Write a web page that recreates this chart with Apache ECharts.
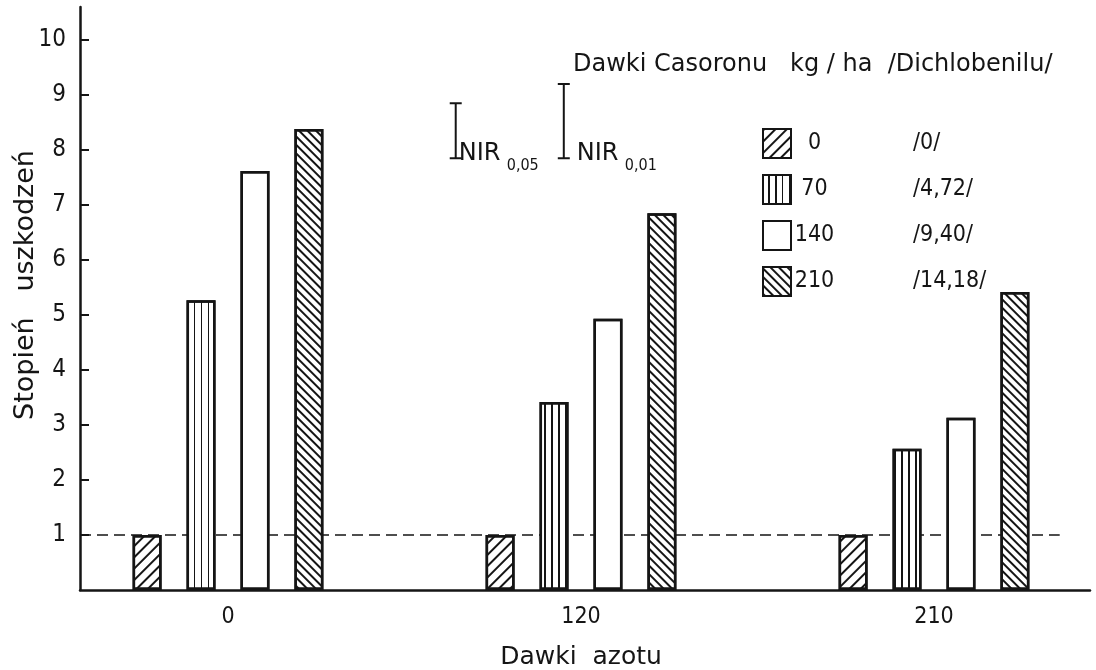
<!DOCTYPE html>
<html>
<head>
<meta charset="utf-8">
<script src="https://cdn.jsdelivr.net/npm/echarts@6/dist/echarts.min.js"></script>
<style>html,body{margin:0;padding:0;background:#fff}#c{width:1096px;height:670px}</style>
</head>
<body>
<div id="c"></div>
<script>
// ---- data ----
const nitrogenDoses = ['0', '120', '210'];             // Dawki azotu
const casoronDoses = ['0', '70', '140', '210'];        // kg/ha
const dichlobenil = ['/0/', '/4,72/', '/9,40/', '/14,18/'];
const damage0   = [1.0, 1.0, 1.0];
const damage70  = [5.27, 3.42, 2.57];
const damage140 = [7.62, 4.93, 3.13];
const damage210 = [8.38, 6.85, 5.42];
const yTicks = [1, 2, 3, 4, 5, 6, 7, 8, 9, 10];
const nirLabels = ['0,05', '0,01'];
const nirValues = [1.0, 1.35];
const controlLevel = 1;

// ---- layout / style constants ----
const FONT = '"DejaVu Sans", sans-serif';
const NUMFONT = '"DejaVu Sans Condensed", "DejaVu Sans", sans-serif';
const INK = '#151515';
const Y_MAX = 10.6;
const NIR_X = [0.372, 0.479];   // fraction of axis width
const NIR_TEXT_DX = [3, 13];
const NIR_BASE = 7.85;
const DASH_END = 0.97;

const decals = [
  { symbol: 'rect', symbolSize: 1, dashArrayX: [1, 0], dashArrayY: [1.5, 5.3], rotation: -Math.PI / 4, color: INK },
  { symbol: 'rect', symbolSize: 1, dashArrayX: [1, 0], dashArrayY: [1.4, 4.6], rotation: Math.PI / 2, color: INK },
  null,
  { symbol: 'rect', symbolSize: 1, dashArrayX: [1, 0], dashArrayY: [1.4, 3.6], rotation: Math.PI / 4, color: INK }
];
const seriesData = [damage0, damage70, damage140, damage210];

const barSeries = casoronDoses.map((name, i) => ({
  name: name,
  type: 'bar',
  xAxisIndex: 1,
  yAxisIndex: 1,
  data: seriesData[i],
  barWidth: 29,
  barGap: '86%',
  itemStyle: {
    color: '#fff',
    borderColor: INK,
    borderWidth: 2.5,
    decal: decals[i] || { symbol: 'none' }
  },
  emphasis: { disabled: true },
  z: 3
}));

const chart = echarts.init(document.getElementById('c'), null, { renderer: 'canvas' });
chart.setOption({
  backgroundColor: '#fff',
  animation: false,
  textStyle: { fontFamily: FONT, color: INK },
  title: [{
    text: 'Dawki Casoronu   kg / ha  /Dichlobenilu/',
    left: 568, top: 48,
    textStyle: { fontFamily: FONT, fontSize: 24, fontWeight: 'normal', color: INK }
  }],
  graphic: [{
    type: 'text',
    x: 26, y: 285,
    rotation: Math.PI / 2,
    style: {
      text: 'Stopień   uszkodzeń',
      font: '27px ' + FONT,
      fill: INK,
      align: 'center',
      verticalAlign: 'middle'
    }
  }],
  legend: {
    orient: 'vertical',
    left: 757, top: 123,
    itemWidth: 28, itemHeight: 29,
    itemGap: 15,
    selectedMode: false,
    icon: 'rect',
    data: casoronDoses,
    formatter: function (name) {
      const i = casoronDoses.indexOf(name);
      return '{n|' + name + '}{v|' + dichlobenil[i] + '}';
    },
    textStyle: {
      fontFamily: NUMFONT, color: INK,
      rich: {
        n: { width: 37, align: 'right', fontSize: 23, lineHeight: 29, fontFamily: NUMFONT, color: INK },
        v: { padding: [0, 0, 0, 80], fontSize: 23, lineHeight: 29, fontFamily: NUMFONT, color: INK }
      }
    }
  },
  grid: [
    { left: 80, right: 6, top: 7, bottom: 80, outerBoundsMode: 'none', containLabel: false },
    { left: 51.5, width: 1059, top: 7, bottom: 80, outerBoundsMode: 'none', containLabel: false }
  ],
  xAxis: [
    {
      type: 'value', gridIndex: 0, min: 0, max: 1,
      axisLine: { show: true, onZero: false, lineStyle: { color: INK, width: 2.5 } },
      axisTick: { show: false }, axisLabel: { show: false }, splitLine: { show: false }
    },
    {
      type: 'category', gridIndex: 1, data: nitrogenDoses,
      axisLine: { show: false }, axisTick: { show: false }, splitLine: { show: false },
      axisLabel: { fontSize: 23, fontFamily: NUMFONT, color: INK, margin: 16 },
      name: 'Dawki  azotu', nameLocation: 'middle', nameGap: 55,
      nameTextStyle: { fontSize: 25, fontFamily: FONT, color: INK }
    }
  ],
  yAxis: [
    {
      type: 'value', gridIndex: 0, min: 0, max: Y_MAX, interval: 1,
      axisLine: { show: true, onZero: false, lineStyle: { color: INK, width: 2.5 } },
      axisTick: { show: true, inside: true, length: 9, customValues: yTicks, lineStyle: { color: INK, width: 2 } },
      axisLabel: { customValues: yTicks, fontSize: 24, fontFamily: NUMFONT, color: INK, margin: 14,
        formatter: v => (yTicks.indexOf(v) >= 0 ? String(v) : '') },
      splitLine: { show: false }
    },
    {
      type: 'value', gridIndex: 1, min: 0, max: Y_MAX, show: false, splitLine: { show: false }
    }
  ],
  series: barSeries.concat([
    {
      type: 'line',
      xAxisIndex: 0, yAxisIndex: 0,
      data: [[0, controlLevel], [DASH_END, controlLevel]],
      symbol: 'none',
      lineStyle: { color: INK, width: 1.7, type: [11, 6] },
      silent: true, z: 2
    },
    {
      type: 'custom',
      xAxisIndex: 0, yAxisIndex: 0,
      data: nirValues.map((v, i) => [i, v]),
      silent: true,
      renderItem: function (params, api) {
        const i = api.value(0);
        const len = api.value(1);
        const cs = params.coordSys;
        const x = cs.x + cs.width * NIR_X[i];
        const yb = api.coord([0, NIR_BASE])[1];
        const yt = api.coord([0, NIR_BASE + len])[1];
        const st = { stroke: INK, lineWidth: 2 };
        const tx = x + NIR_TEXT_DX[i];
        return {
          type: 'group',
          children: [
            { type: 'line', shape: { x1: x, y1: yb, x2: x, y2: yt }, style: st },
            { type: 'line', shape: { x1: x - 6, y1: yb, x2: x + 6, y2: yb }, style: st },
            { type: 'line', shape: { x1: x - 6, y1: yt, x2: x + 6, y2: yt }, style: st },
            { type: 'text', x: tx, y: yb + 8,
              style: { text: 'NIR', font: '24px ' + FONT, fill: INK, align: 'left', verticalAlign: 'bottom' } },
            { type: 'text', x: tx + 48, y: yb,
              style: { text: nirLabels[i], font: '16px ' + NUMFONT, fill: INK, align: 'left', verticalAlign: 'top' } }
          ]
        };
      }
    }
  ])
});
</script>
</body>
</html>
